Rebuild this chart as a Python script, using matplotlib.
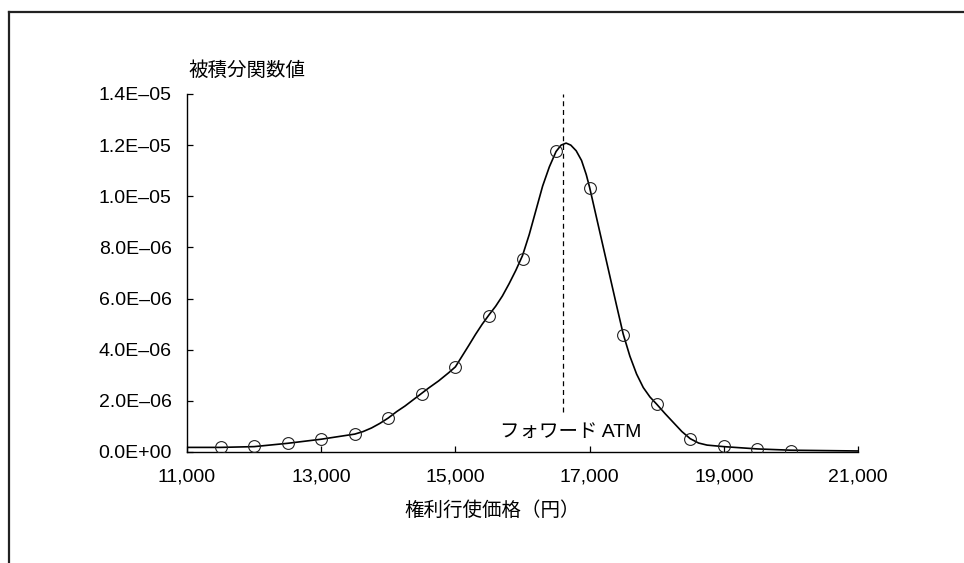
import matplotlib
matplotlib.use("Agg")
import matplotlib.pyplot as plt
from matplotlib.lines import Line2D

plt.rcParams['font.family'] = ['Liberation Sans', 'Noto Sans CJK JP']

# sampled strikes (circles)
strikes = [11500, 12000, 12500, 13000, 13500, 14000, 14500, 15000, 15500,
           16000, 16500, 17000, 17500, 18000, 18500, 19000, 19500, 20000]
integrand = [0.20e-6, 0.23e-6, 0.35e-6, 0.50e-6, 0.70e-6, 1.33e-6, 2.28e-6,
             3.31e-6, 5.30e-6, 7.55e-6, 11.78e-6, 10.32e-6, 4.58e-6, 1.88e-6,
             0.50e-6, 0.23e-6, 0.12e-6, 0.05e-6]

# fitted curve
curve_x = [11000, 11500, 12000, 12500, 13000, 13500, 13625, 13750, 13875,
           14000, 14125, 14250, 14375, 14500, 14600, 14750, 14900, 15000,
           15100, 15200, 15300, 15400, 15500, 15600, 15700, 15800, 15900,
           16000, 16100, 16200, 16300, 16400, 16500, 16575, 16650, 16720,
           16800, 16880, 16950, 17000, 17100, 17200, 17300, 17400, 17500,
           17600, 17700, 17800, 17900, 18000, 18125, 18250, 18375, 18500,
           18625, 18750, 19000, 19500, 20000, 21000]
curve_y = [0.18e-6, 0.18e-6, 0.21e-6, 0.34e-6, 0.50e-6, 0.70e-6, 0.80e-6,
           0.94e-6, 1.12e-6, 1.33e-6, 1.58e-6, 1.80e-6, 2.05e-6, 2.30e-6,
           2.50e-6, 2.78e-6, 3.10e-6, 3.33e-6, 3.75e-6, 4.17e-6, 4.60e-6,
           5.00e-6, 5.36e-6, 5.70e-6, 6.10e-6, 6.58e-6, 7.10e-6, 7.68e-6,
           8.50e-6, 9.45e-6, 10.40e-6, 11.15e-6, 11.75e-6, 12.00e-6,
           12.08e-6, 12.00e-6, 11.78e-6, 11.40e-6, 10.85e-6, 10.35e-6,
           9.20e-6, 8.05e-6, 6.90e-6, 5.75e-6, 4.62e-6, 3.75e-6, 3.05e-6,
           2.52e-6, 2.15e-6, 1.87e-6, 1.50e-6, 1.15e-6, 0.80e-6, 0.52e-6,
           0.35e-6, 0.27e-6, 0.21e-6, 0.12e-6, 0.07e-6, 0.04e-6]

forward_atm = 16600
x_ticks = [11000, 13000, 15000, 17000, 19000, 21000]
x_labels = ['11,000', '13,000', '15,000', '17,000', '19,000', '21,000']
y_ticks = [0, 2e-6, 4e-6, 6e-6, 8e-6, 1e-5, 1.2e-5, 1.4e-5]
y_labels = ['0.0E+00', '2.0E\u201306', '4.0E\u201306', '6.0E\u201306',
            '8.0E\u201306', '1.0E\u201305', '1.2E\u201305', '1.4E\u201305']

fig = plt.figure(figsize=(9.64, 5.63), dpi=100)
ax = fig.add_axes([187 / 964, 111 / 563, 671 / 964, 358 / 563])

ax.plot(curve_x, curve_y, color='black', lw=1.2, zorder=3)
ax.plot(strikes, integrand, 'o', ms=8.5, mfc='none', mec='#222222',
        mew=0.8, zorder=4)
ax.plot([forward_atm, forward_atm], [1.55e-6, 1.4e-5], color='black',
        lw=0.9, dashes=(4, 3), zorder=2)
ax.text(15660, 0.75e-6, 'フォワード ATM', fontsize=14, va='center',
        ha='left')

ax.set_xlim(11000, 21000)
ax.set_ylim(0, 1.4e-5)
ax.set_xticks(x_ticks)
ax.set_xticklabels(x_labels)
ax.set_yticks(y_ticks)
ax.set_yticklabels(y_labels)
ax.tick_params(direction='in', length=4, width=0.9, labelsize=14)
ax.tick_params(axis='x', pad=12)
ax.tick_params(axis='y', pad=11)
for side in ['top', 'right']:
    ax.spines[side].set_visible(False)
for side in ['left', 'bottom']:
    ax.spines[side].set_linewidth(1.0)

fig.text(188 / 964, 1 - 71 / 563, '被積分関数値', fontsize=14,
         ha='left', va='center')
fig.text(492 / 964, 1 - 511 / 563, '権利行使価格（円）', fontsize=14,
         ha='center', va='center')

# frame around the figure (top and left edges only)
fig.add_artist(Line2D([9 / 964, 1.0], [1 - 12 / 563, 1 - 12 / 563],
                      transform=fig.transFigure, color='#222222', lw=1.6))
fig.add_artist(Line2D([9 / 964, 9 / 964], [0, 1 - 12 / 563],
                      transform=fig.transFigure, color='#222222', lw=1.6))

fig.savefig('out.png', dpi=100)
